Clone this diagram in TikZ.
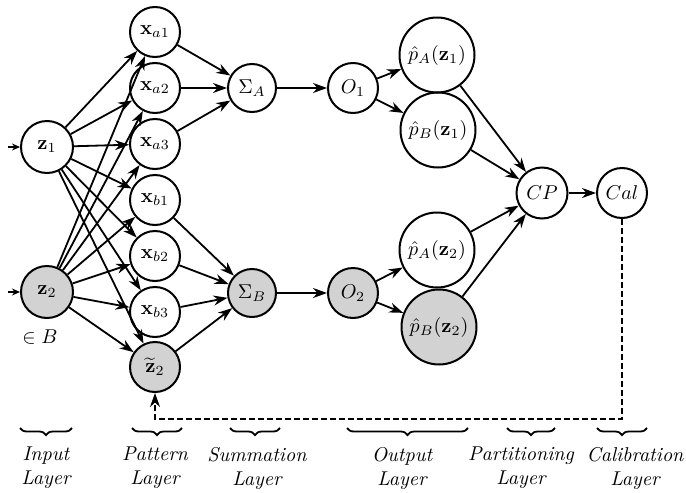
\documentclass[tikz,border=0pt]{standalone}
\usetikzlibrary{arrows.meta,decorations.pathreplacing}
\begin{document}
\begin{tikzpicture}[x=0.5pt,y=-0.5pt,
  nd/.style={circle,draw,line width=1pt,inner sep=0pt,minimum size=25pt},
  sh/.style={fill=gray!35},
  arr/.style={-{Stealth[length=7pt,width=5pt]},line width=0.9pt},
  arrsmall/.style={-{Stealth[length=4pt,width=3.5pt]},line width=0.6pt},
  fb/.style={-{Stealth[length=7pt,width=5pt]},line width=0.9pt,dash pattern=on 3pt off 1.5pt},
  brc/.style={decorate,decoration={brace,amplitude=3.5pt},line width=0.9pt},
  lab/.style={font=\itshape,align=center,inner sep=0pt}]
\useasboundingbox (0,0) rectangle (686,493);
% input layer
\node[nd,minimum size=26pt] (z1) at (47,147) {$\mathbf{z}_1$};
\node[nd,sh,minimum size=26pt] (z2) at (47,292) {$\mathbf{z}_2$};
\node (eb) at (40,337) {$\in B$};
\coordinate (i1) at (8,147);
\coordinate (i2) at (8,292);
\draw[arrsmall] (i1) -- (z1);
\draw[arrsmall] (i2) -- (z2);
% pattern layer
\node[nd] (xa1) at (155,32) {$\mathbf{x}_{a1}$};
\node[nd] (xa2) at (155,88) {$\mathbf{x}_{a2}$};
\node[nd] (xa3) at (155,144) {$\mathbf{x}_{a3}$};
\node[nd] (xb1) at (155,200) {$\mathbf{x}_{b1}$};
\node[nd] (xb2) at (155,256) {$\mathbf{x}_{b2}$};
\node[nd] (xb3) at (155,312) {$\mathbf{x}_{b3}$};
\node[nd,sh] (zt) at (155,367) {$\widetilde{\mathbf{z}}_2$};
\foreach \s in {z1,z2}{
  \foreach \t in {xa1,xa2,xa3,xb1,xb2,xb3,zt}{
    \draw[arr] (\s) -- (\t);
  }
}
% summation layer
\node[nd,minimum size=24pt] (sa) at (252,88) {$\Sigma_A$};
\node[nd,sh,minimum size=24pt] (sb) at (252,293) {$\Sigma_B$};
\foreach \t in {xa1,xa2,xa3}{\draw[arr] (\t) -- (sa);}
\foreach \t in {xb1,xb2,xb3,zt}{\draw[arr] (\t) -- (sb);}
% output layer
\node[nd] (o1) at (353,88) {$O_1$};
\node[nd,sh] (o2) at (353,293) {$O_2$};
\draw[arr] (sa) -- (o1);
\draw[arr] (sb) -- (o2);
\node[nd,minimum size=37.5pt] (pa1) at (437,55) {$\hat{p}_A(\mathbf{z}_1)$};
\node[nd,minimum size=37.5pt] (pb1) at (438,130) {$\hat{p}_B(\mathbf{z}_1)$};
\node[nd,minimum size=37.5pt] (pa2) at (437,250) {$\hat{p}_A(\mathbf{z}_2)$};
\node[nd,sh,minimum size=37.5pt] (pb2) at (439,327) {$\hat{p}_B(\mathbf{z}_2)$};
\draw[arr] (o1) -- (pa1);
\draw[arr] (o1) -- (pb1);
\draw[arr] (o2) -- (pa2);
\draw[arr] (o2) -- (pb2);
% partitioning and calibration
\node[nd,minimum size=25.5pt] (cp) at (542,193) {$CP$};
\node[nd] (cal) at (622,193) {$Cal$};
\foreach \t in {pa1,pb1,pa2,pb2}{\draw[arr] (\t) -- (cp);}
\draw[arr] (cp) -- (cal);
% feedback
\coordinate (c1) at (622,419);
\coordinate (c2) at (155,419);
\draw[fb] (cal) -- (c1) -- (c2) -- (zt);
% braces
\draw[brc] (72,428) -- (20,428);
\draw[brc] (182,428) -- (132,428);
\draw[brc] (280,428) -- (230,428);
\draw[brc] (468,428) -- (347,428);
\draw[brc] (555,428) -- (507,428);
\draw[brc] (647,428) -- (597,428);
% labels
\node[lab] (l1) at (46,468) {Input\\Layer};
\node[lab] (l2) at (155,468) {Pattern\\Layer};
\node[lab] (l3) at (257,468) {Summation\\Layer};
\node[lab] (l4) at (402,468) {Output\\Layer};
\node[lab] (l5) at (521,468) {Partitioning\\Layer};
\node[lab] (l6) at (635,468) {Calibration\\Layer};
\end{tikzpicture}
\end{document}
